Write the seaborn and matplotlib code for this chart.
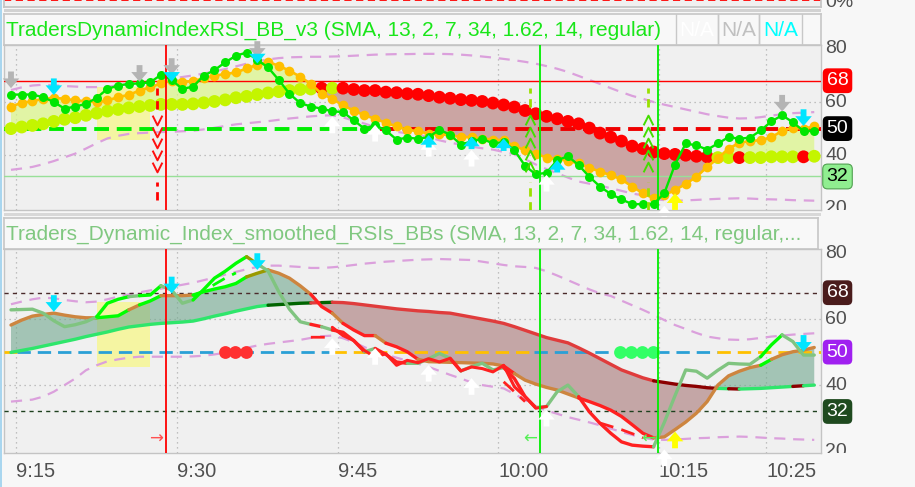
import numpy as np
import matplotlib.pyplot as plt
import seaborn as sns
from matplotlib.patches import Rectangle
from matplotlib.path import Path

# ---------------- data ----------------
bars = np.arange(76)                      # one-minute bars, 9:14 .. 10:29
tick_pos = [0.5, 15.5, 30.5, 45.5, 60.5, 70.5]
tick_labels = ['9:15', '9:30', '9:45', '10:00', '10:15', '10:25']

# upper panel: TradersDynamicIndexRSI_BB_v3
top_rsi = [62.8, 62.8, 62.8, 61.8, 60.0, 57.5, 58.3, 59.3, 61.6, 64.9,
           66.2, 66.8, 67.0, 67.4, 70.2, 68.3, 64.9, 65.8, 69.9, 72.0,
           74.9, 77.4, 78.6, 75.8, 73.0, 68.3, 63.1, 59.6, 58.3, 57.5,
           56.5, 56.2, 53.1, 50.0, 51.3, 49.3, 45.9, 46.6, 46.2, 46.8,
           49.6, 47.7, 44.0, 45.2, 46.2, 44.4, 45.0, 41.9, 36.0, 32.8,
           33.4, 38.1, 39.6, 36.3, 31.9, 28.2, 25.4, 23.4, 21.6, 21.6,
           21.6, 25.7, 36.5, 44.4, 43.7, 42.1, 44.4, 46.8, 46.2, 46.6,
           49.3, 52.7, 55.0, 52.4, 49.1, 49.1]
top_signal = [58.3, 59.7, 60.3, 61.2, 61.6, 61.2, 60.6, 60.3, 59.9, 60.6,
              61.8, 62.7, 64.3, 65.5, 67.0, 68.0, 67.7, 67.8, 69.0, 69.9,
              70.5, 71.1, 72.6, 74.0, 75.1, 73.6, 71.8, 69.5, 66.8, 63.1,
              61.2, 58.7, 56.8, 55.0, 53.7, 52.2, 50.8, 49.6, 49.0, 48.1,
              47.9, 47.5, 46.8, 46.8, 46.2, 45.9, 45.6, 43.4, 41.9, 40.6,
              39.1, 38.5, 37.9, 36.9, 35.3, 33.8, 32.5, 30.9, 28.2, 25.7,
              23.8, 25.0, 26.9, 29.2, 31.9, 35.6, 38.8, 42.5, 44.6, 45.4,
              45.6, 46.8, 49.1, 50.4, 50.0, 50.8]
top_base = [50.0, 50.6, 51.2, 51.8, 52.7, 53.5, 54.1, 55.0, 55.8, 56.6,
            57.2, 57.8, 58.3, 58.7, 59.1, 59.1, 59.1, 59.3, 59.7, 60.2,
            60.8, 61.6, 62.1, 62.8, 63.4, 63.9, 64.3, 64.7, 64.9, 65.2,
            65.2, 65.2, 64.7, 64.3, 64.3, 63.7, 63.5, 63.1, 62.9, 62.4,
            61.8, 61.4, 60.9, 60.6, 60.2, 59.6, 58.9, 58.1, 56.8, 55.6,
            54.6, 53.7, 52.7, 51.8, 50.2, 48.3, 46.8, 45.3, 43.4, 42.5,
            41.2, 40.6, 40.3, 40.0, 39.6, 39.4, 39.1, 39.1, 39.1, 39.1,
            39.1, 39.4, 39.4, 39.4, 39.4, 39.6]
top_base_state = ('yyyyyyyyyy' 'yyyyyyyyyy' 'yyyyyyyyyr' 'yrrrrrrrrr'
                  'rrrrrrrrrr' 'rrrrrrrrrr' 'rrrrrryyry' 'yyyyry')
top_upper = [64.5, 65.5, 66.2, 66.5, 66.3, 66.0, 65.8, 65.6, 65.6, 65.8,
             66.2, 66.7, 67.2, 67.7, 68.2, 68.8, 69.4, 70.0, 70.7, 71.5,
             72.4, 73.4, 74.4, 75.3, 76.0, 76.5, 76.8, 76.9, 77.0, 77.0,
             77.1, 77.2, 77.4, 77.6, 77.8, 77.9, 78.0, 78.0, 78.1, 78.1,
             78.1, 78.0, 77.8, 77.5, 77.1, 76.7, 76.2, 75.7, 75.1, 74.4,
             73.5, 72.5, 71.3, 69.8, 68.3, 66.8, 65.2, 63.7, 62.3, 61.2,
             60.0, 59.0, 58.1, 57.2, 56.3, 55.4, 54.7, 54.1, 53.8, 53.9,
             54.3, 54.9, 55.4, 55.8, 56.0, 56.2]
top_lower = [34.5, 35.0, 35.6, 36.6, 37.8, 39.2, 40.6, 42.5, 44.5, 46.3,
             47.3, 48.0, 48.3, 48.5, 48.7, 48.8, 49.0, 49.2, 49.7, 50.3,
             51.0, 51.6, 52.0, 52.4, 52.8, 53.3, 53.8, 54.2, 54.6, 54.9,
             55.0, 54.2, 53.0, 51.9, 50.6, 49.6, 48.8, 48.2, 47.8, 46.8,
             45.6, 44.7, 44.0, 43.2, 42.6, 42.1, 41.2, 40.4, 38.5, 36.5,
             34.8, 33.2, 31.6, 30.1, 29.3, 28.5, 27.6, 26.6, 25.6, 24.9,
             23.6, 23.1, 22.9, 23.0, 23.2, 23.4, 23.6, 23.7, 23.8, 23.7,
             23.5, 23.4, 23.3, 23.1, 23.0, 22.9]

# lower panel: Traders_Dynamic_Index_smoothed_RSIs_BBs
low_rsi = [62.8, 62.9, 63.0, 61.8, 59.5, 57.7, 58.3, 59.2, 60.7, 64.8,
           66.0, 66.8, 67.1, 67.3, 70.1, 68.8, 64.8, 65.8, 69.0, 72.4,
           74.5, 76.9, 78.9, 76.7, 74.6, 68.3, 63.0, 59.2, 58.4, 57.7,
           56.7, 56.0, 53.5, 50.1, 51.1, 49.3, 47.0, 46.6, 46.6, 48.0,
           49.6, 48.1, 44.3, 45.6, 46.6, 44.6, 45.3, 42.0, 36.5, 33.2,
           33.5, 38.0, 40.0, 36.5, 31.9, 28.4, 25.4, 22.8, 21.8, 21.5,
           21.3, 28.7, 36.8, 44.6, 44.2, 42.1, 44.5, 46.6, 46.4, 46.3,
           48.6, 52.2, 55.2, 53.2, 49.1, 49.1]
low_rsi_state = ('ppppppppll' 'lpllppplll' 'lloppppprp' 'rrrprrrppp'
                 'prpppprrrp' 'ppprrrrrrr' 'pppppppppp' 'llppp')
low_signal = [58.2, 59.7, 60.9, 61.4, 61.8, 61.2, 60.7, 60.4, 60.4, 60.7,
              61.0, 62.8, 64.3, 65.5, 67.1, 67.1, 67.1, 67.3, 68.3, 69.1,
              69.8, 70.8, 72.8, 73.9, 74.9, 73.9, 72.4, 70.1, 67.5, 63.8,
              61.8, 58.7, 56.7, 55.0, 55.0, 52.7, 51.6, 50.1, 47.8, 47.1,
              47.0, 46.9, 46.8, 46.7, 46.6, 46.4, 45.8, 43.5, 41.5, 40.3,
              39.3, 38.5, 37.3, 36.1, 35.0, 33.8, 32.4, 30.5, 28.0, 25.4,
              24.0, 24.3, 26.5, 28.8, 31.5, 35.0, 40.0, 42.8, 44.2, 45.3,
              46.0, 47.8, 49.2, 50.1, 50.6, 51.4]
low_signal_state = ('bbbbbbbbll' 'lbllbbblll' 'lloobbbbrr' 'brrrbrrrbb'
                    'bbbbbbrbbb' 'bbbrrrrrrr' 'bbbbbbbbbb' 'lbbbb')
low_base = [49.9, 50.5, 51.1, 51.8, 52.5, 53.2, 53.9, 54.7, 55.4, 56.1,
            56.9, 57.6, 58.0, 58.4, 58.7, 58.9, 59.1, 59.4, 60.1, 60.9,
            61.6, 62.4, 63.1, 63.8, 64.2, 64.4, 64.6, 64.8, 64.9, 65.0,
            65.1, 65.0, 64.7, 64.3, 63.9, 63.5, 63.1, 62.8, 62.5, 62.3,
            62.0, 61.8, 61.2, 60.6, 60.0, 59.4, 58.7, 57.7, 56.6, 55.5,
            54.4, 53.6, 52.8, 51.3, 49.7, 48.0, 46.3, 44.6, 43.4, 42.2,
            41.3, 40.8, 40.3, 39.9, 39.6, 39.2, 39.0, 38.9, 38.8, 38.9,
            39.0, 39.2, 39.4, 39.6, 39.8, 40.0]
low_base_state = ('gggggggggg' 'gggggggggg' 'ggggddddrd' 'rrrrrrrrrr'
                  'rrrrrrrrrr' 'rrrrrrrrrr' 'kkkkkkgkgg' 'gggkg')
low_fast = [np.nan] * 30 + [57.5, 55.0, 53.5, 50.5, 48.5, 49.5, 46.0, 47.5, 46.8, 48.0,
                            47.0, 48.1, 44.3, 45.5, 45.0, 44.0, 46.0, 39.5, 36.5, 33.0,
                            33.5] + [np.nan] * 25
low_dash_up = [np.nan] * 17 + [67.0, 68.5, 70.5, 72.4, 74.0] + [np.nan] * 54
low_dash_dn = ([np.nan] * 28 + [54.5, 54.5, 54.5] + [np.nan] * 15 + [41.0, 38.0, 35.0]
               + [np.nan] * 6 + [28.5, 27.5, 26.5, 25.3, 24.0] + [np.nan] * 16)
low_upper = [64.5, 65.3, 66.0, 66.5, 66.3, 65.8, 65.4, 65.1, 65.3, 66.0,
             66.8, 67.5, 68.1, 68.7, 69.2, 69.8, 70.4, 71.0, 71.8, 72.6,
             73.5, 74.3, 75.1, 75.8, 76.2, 76.2, 76.0, 75.8, 75.5, 75.5,
             75.7, 76.0, 76.4, 76.8, 77.1, 77.4, 77.6, 77.8, 78.0, 78.1,
             78.2, 78.1, 78.0, 77.9, 77.4, 76.9, 76.4, 76.0, 75.8, 75.5,
             74.5, 73.2, 71.8, 70.4, 69.0, 67.8, 67.0, 65.6, 64.2, 62.8,
             61.3, 59.7, 58.2, 57.0, 55.8, 54.7, 54.2, 53.8, 53.7, 53.9,
             54.3, 54.7, 55.0, 55.3, 55.5, 55.7]
low_lower = [35.0, 35.3, 35.6, 36.5, 38.0, 40.0, 42.0, 44.5, 46.0, 47.2,
             47.8, 48.3, 48.6, 48.6, 48.6, 48.6, 48.6, 48.7, 48.9, 49.3,
             49.8, 50.5, 51.3, 52.0, 52.5, 52.9, 53.3, 53.7, 54.3, 54.8,
             55.0, 54.2, 53.0, 51.5, 50.2, 49.2, 48.3, 47.4, 46.5, 45.5,
             44.3, 43.1, 42.0, 40.8, 40.0, 39.5, 39.0, 37.3, 35.5, 33.5,
             32.3, 31.3, 30.3, 29.5, 28.7, 27.8, 26.8, 25.8, 24.9, 24.0,
             23.5, 23.4, 23.5, 23.7, 23.9, 24.0, 24.2, 24.3, 24.4, 24.3,
             24.1, 23.9, 23.8, 23.6, 23.5, 23.4]

# signal markers
sell_bar = 13.6
buy_bars = [48.5, 59.5]
chevron_levels = [53.2, 48.8, 44.5, 40.1, 35.7]
red_dots_bars = [20.0, 20.9, 21.9]
green_dots_bars = [56.9, 57.9, 58.9, 59.9]
red_vline = 14.47
green_vlines = [49.4, 60.4]

# arrows: (bar, tip value, colour key, direction)
top_arrows = [(0, 65.2, 'gray', 'dn'), (12, 67.6, 'gray', 'dn'), (15, 70.2, 'gray', 'dn'),
              (23, 76.6, 'gray', 'dn'), (72, 56.4, 'gray', 'dn'),
              (4, 62.6, 'cyan', 'dn'), (74, 51.0, 'cyan', 'dn'),
              (30, 54.5, 'white', 'up'), (34, 51.4, 'white', 'up'), (39, 45.7, 'white', 'up'),
              (43, 42.0, 'white', 'up'), (50, 32.6, 'white', 'up'), (61, 21.0, 'white', 'up'),
              (39, 47.6, 'cyan', 'up'), (43, 47.0, 'cyan', 'up'), (46, 46.3, 'cyan', 'up'),
              (51, 38.2, 'cyan', 'up'), (62, 25.7, 'yellow', 'up')]
top_chevrons = [(15, 67.6, 'dn'), (23, 74.5, 'dn')]
low_arrows = [(4, 62.2, 'cyan', 'dn'), (15, 67.8, 'cyan', 'dn'), (23, 74.9, 'cyan', 'dn'),
              (74, 50.1, 'cyan', 'dn'),
              (30, 54.2, 'white', 'up'), (34, 51.2, 'white', 'up'), (39, 46.1, 'white', 'up'),
              (43, 42.1, 'white', 'up'), (50, 32.5, 'white', 'up'), (61, 20.5, 'white', 'up'),
              (62, 25.9, 'yellow', 'up')]

top_labels = [(80, '80', None, None), (68, '68', '#ff0000', 'white'), (60, '60', None, None),
              (50, '50', '#000000', 'white'), (40, '40', None, None),
              (32, '32', '#90ee90', 'black'), (20, '20', None, None)]
low_labels = [(80, '80', None, None), (68, '68', '#4a1c1c', 'white'), (60, '60', None, None),
              (50, '50', '#a020f0', 'white'), (40, '40', None, None),
              (32, '32', '#1f4a1f', 'white'), (20, '20', None, None)]

arrow_colors = {'gray': '#b4b4b4', 'cyan': '#00e5ff', 'white': '#ffffff', 'yellow': '#ffff00'}

# ---------------- drawing ----------------
sns.set_theme(style='white')
plt.rcParams['font.family'] = ['Liberation Sans', 'DejaVu Sans']

W, H = 915, 487
XLIM = (-0.7, 75.63)
fig = plt.figure(figsize=(W / 100, H / 100), dpi=100, facecolor='#f7f7f7')

# open chevron markers (line only)
V_MARK = Path([(-1, 1), (0, -1), (1, 1)], [Path.MOVETO, Path.LINETO, Path.LINETO])
UP_MARK = Path([(-1, -1), (0, 1), (1, -1)], [Path.MOVETO, Path.LINETO, Path.LINETO])


def box(x0, y0, x1, y1):
    return [x0 / W, 1 - y1 / H, (x1 - x0) / W, (y1 - y0) / H]


def panel(ax, ylim):
    ax.set_facecolor('#f0f0f0')
    ax.set_xlim(*XLIM)
    ax.set_ylim(*ylim)
    ax.set_xticks(tick_pos)
    ax.set_xticklabels([])
    ax.set_yticks([40, 60])
    ax.set_yticklabels([])
    ax.tick_params(length=0)
    ax.grid(True, color='#b0b0b0', ls=(0, (1, 3)), lw=0.9)
    for sp in ax.spines.values():
        sp.set_color('#c4c4c4')
        sp.set_linewidth(1)


def header(rect, title, color, boxes=()):
    hx = fig.add_axes(rect)
    hx.set_facecolor('#f8f8f8')
    hx.set_xticks([])
    hx.set_yticks([])
    for sp in hx.spines.values():
        sp.set_color('#c8c8c8')
    hx.text(0.003, 0.47, title, color=color, fontsize=15, va='center', ha='left')
    for x0, x1, txt, c in boxes:
        hx.axvline(x0, color='#c8c8c8', lw=1)
        hx.axvline(x1, color='#c8c8c8', lw=1)
        hx.text((x0 + x1) / 2, 0.47, txt, color=c, fontsize=15, va='center', ha='center')
    return hx


def draw_runs(ax, y, states, palette, lw, z):
    y = np.asarray(y)
    start = 0
    for k in range(1, len(states) + 1):
        if k == len(states) or states[k] != states[start]:
            ax.plot(bars[start:k + 1], y[start:k + 1], color=palette[states[start]],
                    lw=lw, solid_capstyle='round', solid_joinstyle='round', zorder=z)
            start = k


def arrow(ax, x, tip, color, direction, length=12):
    off = -length if direction == 'up' else length
    ax.annotate('', xy=(x, tip), xytext=(0, off), textcoords='offset points',
                arrowprops=dict(arrowstyle='simple,head_length=0.5,head_width=0.85,tail_width=0.3',
                                fc=color, ec='none', shrinkA=0, shrinkB=0, mutation_scale=14),
                zorder=9)


def side_labels(rect, ylim, labels):
    lx = fig.add_axes(rect)
    lx.axis('off')
    lx.set_xlim(0, 1)
    lx.set_ylim(*ylim)
    for val, txt, fc, tc in labels:
        if fc is None:
            lx.text(0.045, val, txt, fontsize=14, color='#505050', va='center', ha='left', clip_on=True)
        else:
            lx.text(0.06, val, txt, fontsize=14, color=tc, va='center', ha='left', clip_on=True,
                    bbox=dict(boxstyle='round,pad=0.2,rounding_size=0.25', fc=fc,
                              ec='#50a050' if fc == '#90ee90' else 'none', lw=0.8))


# thin strip of the panel above
strip = fig.add_axes(box(3.5, -4, 821, 6.5))
strip.set_facecolor('#f0f0f0')
strip.set_xlim(*XLIM)
strip.set_ylim(0, 1)
strip.set_xticks([])
strip.set_yticks([])
for sp in strip.spines.values():
    sp.set_color('#c4c4c4')
strip.axhline(0.6, color='#ff0000', ls=(0, (4, 2.5)), lw=1.3)
fig.text(825 / W, 1 - 7 / H, '0%', fontsize=14, color='#505050', va='baseline')
fig.patches.append(Rectangle((3.5 / W, 1 - 12 / H), 817.5 / W, 3 / H, transform=fig.transFigure,
                             fc='#d2d2d2', ec='none'))
fig.patches.append(Rectangle((3.5 / W, 1 - 216 / H), 817.5 / W, 3.5 / H, transform=fig.transFigure,
                             fc='#d8d8d8', ec='none'))
fig.patches.append(Rectangle((0, 0), 2 / W, 1, transform=fig.transFigure, fc='#a9d6ef', ec='none'))

# ---- upper panel ----
header(box(3.5, 13.5, 821, 45), 'TradersDynamicIndexRSI_BB_v3 (SMA, 13, 2, 7, 34, 1.62, 14, regular)',
       '#19e619',
       boxes=[(0.8226, 0.874, 'N/A', '#ffffff'), (0.874, 0.924, 'N/A', '#c0c0c0'),
              (0.924, 0.9767, 'N/A', '#00ffff')])
ax1 = fig.add_axes(box(3.5, 45, 821, 210))
panel(ax1, (19.4, 81.43))

sig = np.array(top_signal)
base = np.array(top_base)
ax1.add_patch(Rectangle((8.03, 45.6), 4.95, 20.2, fc='#f5f5a2', ec='none', zorder=1))
ax1.fill_between(bars, sig, base, where=sig >= base, interpolate=True,
                 color='#dcf786', alpha=0.7, lw=0, zorder=2)
ax1.fill_between(bars, sig, base, where=sig < base, interpolate=True,
                 color='#cba5a3', lw=0, zorder=2)
for band in (top_upper, top_lower):
    sns.lineplot(x=bars, y=band, ax=ax1, color='#dba0dc', lw=1.6,
                 linestyle=(0, (5, 3.5)), zorder=3)
ax1.axhline(68, color='#ff0000', lw=1, zorder=3)
ax1.axhline(32, color='#98e098', lw=1, zorder=3)
ax1.plot([XLIM[0], 34.5], [50, 50], color='#00ee00', lw=2.8, ls=(0, (3.8, 2)), zorder=3)
ax1.plot([34.5, XLIM[1]], [50, 50], color='#ee0000', lw=2.8, ls=(0, (3.8, 2)), zorder=3)

sns.scatterplot(x=bars, y=top_base, hue=list(top_base_state), ax=ax1,
                palette={'y': '#c4f500', 'r': '#ff0000'}, s=85, linewidth=0, legend=False, zorder=4)
sns.lineplot(x=bars, y=top_signal, ax=ax1, color='#ffbf00', lw=1.9, marker='o',
             markersize=7, markeredgewidth=0, zorder=5)
sns.lineplot(x=bars, y=top_rsi, ax=ax1, color='#00e600', lw=1.7, marker='o',
             markersize=6.5, markeredgewidth=0, zorder=6)

# sell / buy signal columns
ax1.plot([sell_bar, sell_bar], [57.5, 65.2], color='#ff0000', lw=2, ls=(0, (3, 2)), zorder=6)
ax1.plot([sell_bar, sell_bar], [23.2, 30.0], color='#ff0000', lw=2, ls=(0, (3, 2)), zorder=6)
ax1.plot([sell_bar] * len(chevron_levels), chevron_levels, ls='none', marker=V_MARK,
         markersize=7, mfc='none', mec='#ff1010', mew=1.4, zorder=6)
for bx in buy_bars:
    ax1.plot([bx, bx], [58.2, 65.2], color='#99e000', lw=2, ls=(0, (3, 2)), zorder=6)
    ax1.plot([bx, bx], [19.4, 30.0], color='#99e000', lw=2, ls=(0, (3, 2)), zorder=6)
    ax1.plot([bx] * len(chevron_levels), chevron_levels, ls='none', marker=UP_MARK,
             markersize=7, mfc='none', mec='#44dd00', mew=1.4, zorder=6)

for bx, tip, c, d in top_arrows:
    arrow(ax1, bx, tip, arrow_colors[c], d, length=9 if c == 'cyan' and d == 'up' else 12)
for bx, tip, d in top_chevrons:
    arrow(ax1, bx, tip, arrow_colors['cyan'], d, length=6)

ax1.axvline(red_vline, color='#ff0000', lw=1.3, zorder=7)
for gx in green_vlines:
    ax1.axvline(gx, color='#00ee00', lw=1.3, zorder=7)
side_labels(box(821, 13, 915, 210), (19.4, 93.46), top_labels)

# ---- lower panel ----
header(box(3.5, 217.5, 818, 249.3),
       'Traders_Dynamic_Index_smoothed_RSIs_BBs (SMA, 13, 2, 7, 34, 1.62, 14, regular,...',
       '#80c880')
ax2 = fig.add_axes(box(3.5, 249.3, 821, 453.3))
panel(ax2, (19.33, 81.15))

sig2 = np.array(low_signal)
base2 = np.array(low_base)
ax2.add_patch(Rectangle((8.03, 45.6), 4.95, 19.7, fc='#f5f5a2', ec='none', zorder=1))
ax2.fill_between(bars, sig2, base2, where=sig2 >= base2, interpolate=True,
                 color='#71a88e', alpha=0.6, lw=0, zorder=2)
ax2.fill_between(bars, sig2, base2, where=sig2 < base2, interpolate=True,
                 color='#c4a6a6', lw=0, zorder=2)
for band in (low_upper, low_lower):
    sns.lineplot(x=bars, y=band, ax=ax2, color='#dba0dc', lw=1.6,
                 linestyle=(0, (5, 3.5)), zorder=3)
ax2.axhline(68, color='#4a2a2a', lw=1, ls=(0, (3, 3)), zorder=3)
ax2.axhline(32, color='#1e401e', lw=1, ls=(0, (3, 3)), zorder=3)
for x0, x1, c in [(XLIM[0], 0.6, '#ffc000'), (0.6, 30.1, '#2aa0d6'), (30.1, 48.8, '#ffc000'),
                  (48.8, 65.9, '#2aa0d6'), (65.9, XLIM[1], '#ffc000')]:
    ax2.plot([x0, x1], [50, 50], color=c, lw=2, ls=(0, (4.8, 2.5)), zorder=3)

draw_runs(ax2, low_base, low_base_state,
          {'g': '#2ee66b', 'd': '#006400', 'r': '#e03c3c', 'k': '#8b0000'}, 2.4, 4)
draw_runs(ax2, low_signal, low_signal_state,
          {'b': '#cd853f', 'l': '#00ff00', 'o': '#9a9a00', 'r': '#ff2020'}, 2.4, 5)
draw_runs(ax2, low_rsi, low_rsi_state,
          {'p': '#80c480', 'l': '#00ff00', 'o': '#9a9a00', 'r': '#ff2020'}, 2.4, 6)
ax2.plot(bars, low_fast, color='#ff2020', lw=2.2, zorder=6)
ax2.plot(bars, low_dash_up, color='#00ff00', lw=2, ls=(0, (5, 3)), zorder=6)
ax2.plot(bars, low_dash_dn, color='#ff2020', lw=2, ls=(0, (5, 3)), zorder=6)

sns.scatterplot(x=red_dots_bars, y=[50] * len(red_dots_bars), ax=ax2, color='#ff3030',
                s=85, linewidth=0, zorder=6)
sns.scatterplot(x=green_dots_bars, y=[50] * len(green_dots_bars), ax=ax2, color='#33ff66',
                s=85, linewidth=0, zorder=6)
for bx, tip, c, d in low_arrows:
    arrow(ax2, bx, tip, arrow_colors[c], d)
ax2.text(13.5, 23.7, '→', color='#ff5050', fontsize=12, ha='center', va='center', zorder=7,
         family='DejaVu Sans')
for bx in buy_bars:
    ax2.text(bx, 23.7, '←', color='#55ee55', fontsize=12, ha='center', va='center', zorder=7,
             family='DejaVu Sans')

ax2.axvline(red_vline, color='#ff0000', lw=1.3, zorder=7)
for gx in green_vlines:
    ax2.axvline(gx, color='#00ee00', lw=1.3, zorder=7)
side_labels(box(821, 216, 915, 453.3), (19.33, 91.24), low_labels)

ax2.set_xticklabels(tick_labels, ha='left', fontsize=14.5, color='#505050')
ax2.tick_params(axis='x', length=0, pad=6)

fig.savefig('out.png', dpi=100, facecolor=fig.get_facecolor())
